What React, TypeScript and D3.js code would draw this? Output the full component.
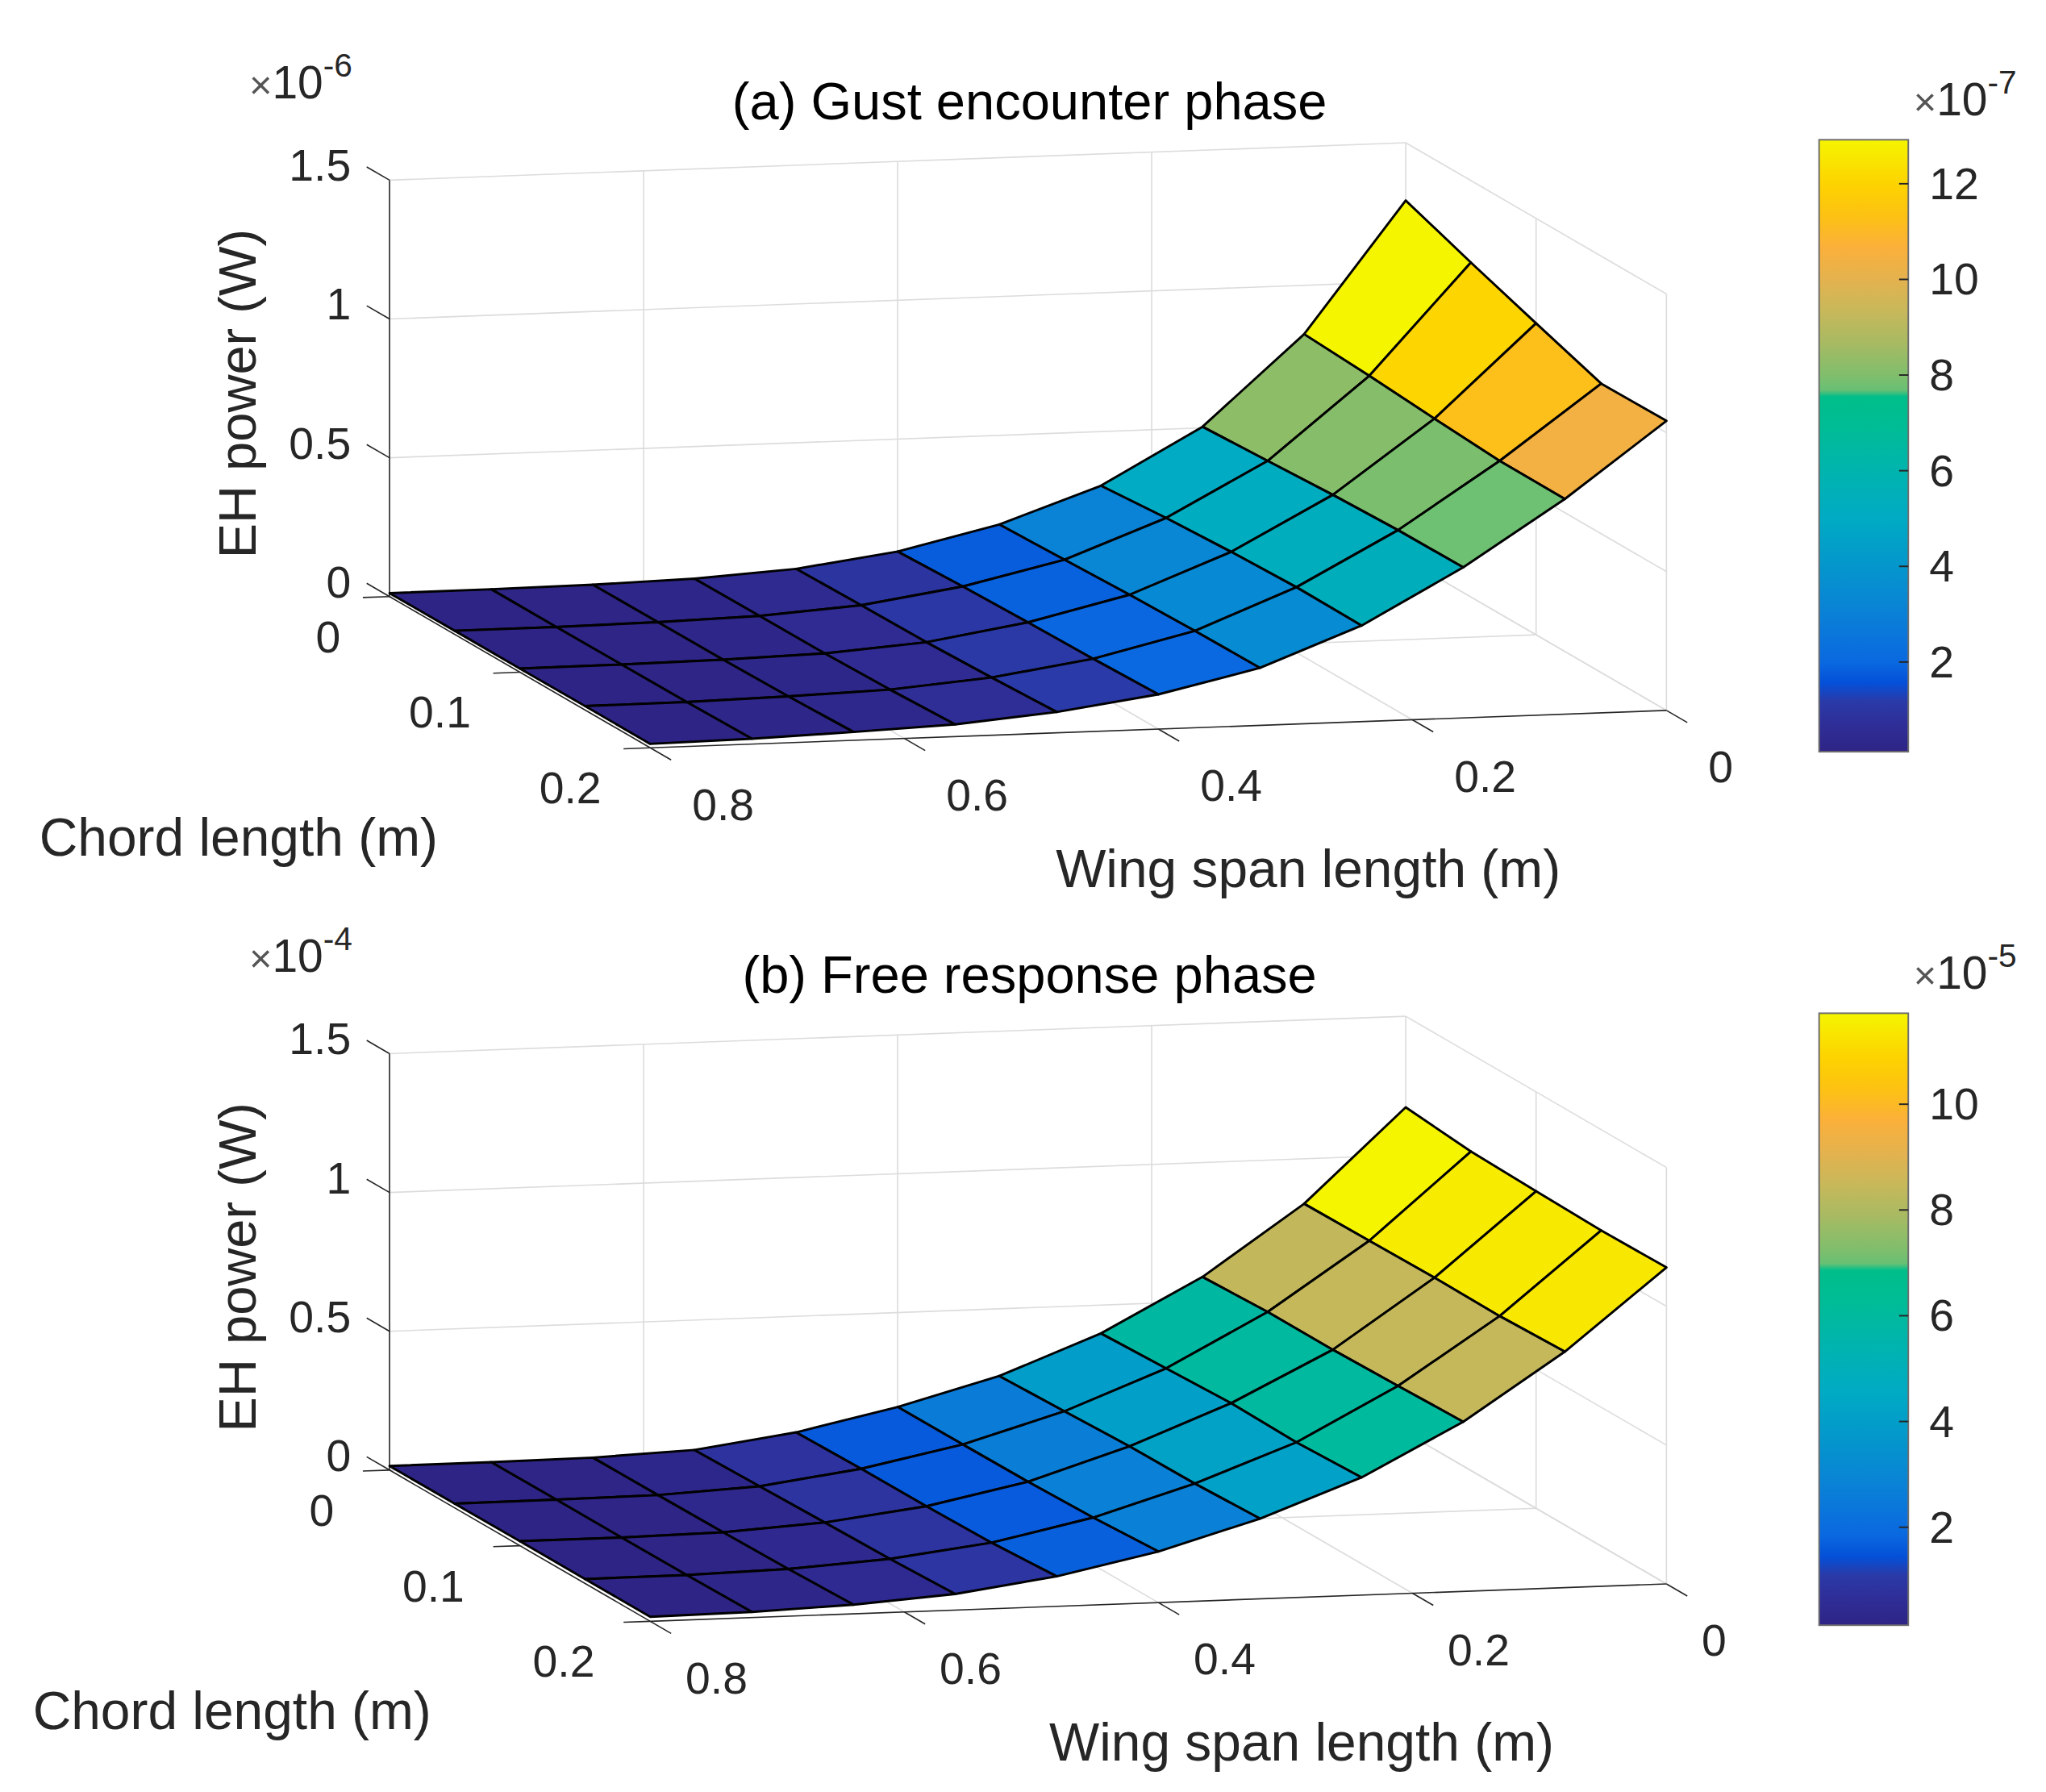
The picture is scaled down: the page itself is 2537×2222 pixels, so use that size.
import React, { useEffect, useRef } from 'react';
import * as d3 from 'd3';

// grid of the surf plot
const spanValues = [0, 0.08, 0.16, 0.24, 0.32, 0.4, 0.48, 0.56, 0.64, 0.72, 0.8];
const chordValues = [0, 0.05, 0.1, 0.15, 0.2];

// rows = chord length, columns = wing span (x1e-6 W)
const gustPower = [
  [1.292, 0.824, 0.504, 0.305, 0.179, 0.095, 0.046, 0.024, 0.016, 0.013, 0.0124],
  [1.205, 0.81, 0.517, 0.325, 0.188, 0.105, 0.051, 0.026, 0.017, 0.013, 0.013],
  [1.122, 0.792, 0.531, 0.339, 0.198, 0.112, 0.054, 0.027, 0.018, 0.014, 0.013],
  [1.041, 0.776, 0.54, 0.348, 0.204, 0.117, 0.063, 0.033, 0.022, 0.015, 0.014],
  [1.043, 0.775, 0.542, 0.346, 0.207, 0.125, 0.075, 0.044, 0.03, 0.019, 0.014],
];

// rows = chord length, columns = wing span (x1e-4 W)
const freePower = [
  [1.172, 0.838, 0.588, 0.398, 0.258, 0.16, 0.082, 0.032, 0.018, 0.015, 0.0147],
  [1.149, 0.841, 0.598, 0.408, 0.267, 0.161, 0.087, 0.037, 0.019, 0.016, 0.015],
  [1.142, 0.844, 0.598, 0.419, 0.277, 0.163, 0.088, 0.043, 0.021, 0.016, 0.016],
  [1.137, 0.842, 0.604, 0.414, 0.279, 0.17, 0.093, 0.048, 0.025, 0.017, 0.016],
  [1.14, 0.85, 0.611, 0.424, 0.289, 0.184, 0.108, 0.058, 0.033, 0.02, 0.016],
];

const zTicks = [0, 0.5, 1, 1.5];
const chordTicks = [0, 0.1, 0.2];
const spanTicks = [0, 0.2, 0.4, 0.6, 0.8];
const gustBarTicks = [2, 4, 6, 8, 10, 12];
const freeBarTicks = [2, 4, 6, 8, 10];

// colormap as drawn in the colorbars
const mapStops = [0, 0.045, 0.082, 0.112, 0.146, 0.23, 0.303, 0.379, 0.459, 0.528, 0.58, 0.591, 0.615, 0.669, 0.721, 0.772, 0.825, 0.877, 0.928, 1];
const mapColors = ['#2e2485', '#2f2e98', '#2a3aa8', '#0450d8', '#0a68e0', '#0a82d6', '#0496cc', '#00aac4', '#00b4ae', '#00bc96', '#00be8a', '#68c074', '#80be6c', '#a8ba62', '#c8b85a', '#e4b24e', '#fbb03a', '#fdc212', '#fdd300', '#f5f500'];

// barScale: colorbar unit relative to z unit (x1e-7 vs x1e-6, x1e-5 vs x1e-4)
const panels = [
  { id: 'a', title: '(a) Gust encounter phase', zExp: '-6', barExp: '-7', power: gustPower, cmin: 0.0124, cmax: 1.292, barScale: 10, barTicks: gustBarTicks, dy: 0, shift: 0 },
  { id: 'b', title: '(b) Free response phase', zExp: '-4', barExp: '-5', power: freePower, cmin: 0.0147, cmax: 1.172, barScale: 10, barTicks: freeBarTicks, dy: 666, shift: -5 },
];

const FONT = '"Liberation Sans", Arial, Helvetica, sans-serif';
const INK = '#262626';

const App: React.FC = () => {
  const svgRef = useRef<SVGSVGElement>(null);

  useEffect(() => {
    if (!svgRef.current) return;
    const svg = d3.select(svgRef.current);
    svg.selectAll('*').remove();

    const colormap = d3.scaleLinear<string>().domain(mapStops).range(mapColors).clamp(true);

    // orthographic projection of the plot box
    const spanX = d3.scaleLinear().domain([0, 0.8]).range([1071.8, 297]);
    const spanY = d3.scaleLinear().domain([0, 0.8]).range([0, 28.5]);
    const chordX = d3.scaleLinear().domain([0, 0.2]).range([0, 198.8]);
    const chordY = d3.scaleLinear().domain([0, 0.2]).range([0, 115.3]);
    const zY = d3.scaleLinear().domain([0, 1.5]).range([426.2, 108.7]);
    const proj = (s: number, c: number, z: number): [number, number] => [
      spanX(s) + chordX(c),
      zY(z) + spanY(s) + chordY(c),
    ];
    const line = d3.line<[number, number]>();

    const defs = svg.append('defs');

    panels.forEach(p => {
      const g = svg.append('g').attr('transform', `translate(0,${p.dy})`);

      const seg = (a: [number, number], b: [number, number], color: string, w: number) =>
        g.append('line')
          .attr('x1', a[0]).attr('y1', a[1]).attr('x2', b[0]).attr('y2', b[1])
          .attr('stroke', color).attr('stroke-width', w);

      // grid on back wall, side wall and floor
      const grid = '#dcdcdc';
      zTicks.forEach(z => {
        seg(proj(0.8, 0, z), proj(0, 0, z), grid, 1);
        seg(proj(0, 0, z), proj(0, 0.2, z), grid, 1);
      });
      spanTicks.filter(s => s < 0.8).forEach(s => {
        seg(proj(s, 0, 0), proj(s, 0, 1.5), grid, 1);
        seg(proj(s, 0, 0), proj(s, 0.2, 0), grid, 1);
      });
      chordTicks.filter(c => c > 0).forEach(c => {
        seg(proj(0, c, 0), proj(0, c, 1.5), grid, 1);
      });
      chordTicks.filter(c => c < 0.2).forEach(c => {
        seg(proj(0, c, 0), proj(0.8, c, 0), grid, 1);
      });

      // axis lines
      seg(proj(0.8, 0, 0), proj(0.8, 0, 1.5), INK, 1);
      seg(proj(0.8, 0, 0), proj(0.8, 0.2, 0), INK, 1);
      seg(proj(0.8, 0.2, 0), proj(0, 0.2, 0), INK, 1);

      const tickText = (x: number, y: number, txt: string, anchor: string) =>
        g.append('text')
          .attr('x', x).attr('y', y)
          .attr('text-anchor', anchor)
          .attr('dominant-baseline', 'central')
          .attr('font-family', FONT).attr('font-size', 34).attr('fill', INK)
          .text(txt);

      zTicks.forEach(z => {
        const a = proj(0.8, 0, z);
        const b = proj(0.8, -0.0175, z);
        seg(a, b, INK, 1);
        tickText(b[0] - 12, b[1] - 1, String(z), 'end');
      });
      chordTicks.forEach(c => {
        const a = proj(0.8, c, 0);
        const b = proj(0.821, c, 0);
        seg(a, b, INK, 1);
        tickText(b[0] - 17 + p.shift, b[1] + 30, String(c), 'end');
      });
      spanTicks.forEach(s => {
        const a = proj(s, 0.2, 0);
        const b = proj(s, 0.216, 0);
        seg(a, b, INK, 1);
        tickText(b[0] + 16 + p.shift, b[1] + 34, String(s), 'start');
      });

      // surface faces, far ones first
      const cnorm = d3.scaleLinear().domain([p.cmin, p.cmax]).range([0, 1]);
      const faces: { pts: [number, number][]; color: string; depth: number }[] = [];
      for (let j = 0; j < chordValues.length - 1; j++) {
        for (let i = 0; i < spanValues.length - 1; i++) {
          const s0 = spanValues[i], s1 = spanValues[i + 1];
          const c0 = chordValues[j], c1 = chordValues[j + 1];
          faces.push({
            pts: [
              proj(s0, c0, p.power[j][i]),
              proj(s1, c0, p.power[j][i + 1]),
              proj(s1, c1, p.power[j + 1][i + 1]),
              proj(s0, c1, p.power[j + 1][i]),
            ],
            color: colormap(cnorm(p.power[j][i])),
            depth: spanY((s0 + s1) / 2) + chordY((c0 + c1) / 2),
          });
        }
      }
      faces.sort((a, b) => a.depth - b.depth);
      g.selectAll('path.face')
        .data(faces)
        .enter()
        .append('path')
        .attr('class', 'face')
        .attr('d', d => line(d.pts) + 'Z')
        .attr('fill', d => d.color)
        .attr('stroke', '#000')
        .attr('stroke-width', 1.8)
        .attr('stroke-linejoin', 'round');

      // titles and labels
      g.append('text')
        .attr('x', 785).attr('y', 77)
        .attr('text-anchor', 'middle').attr('dominant-baseline', 'central')
        .attr('font-family', FONT).attr('font-size', 40).attr('fill', '#000')
        .text(p.title);

      g.append('text')
        .attr('transform', 'translate(181,300) rotate(-90)')
        .attr('text-anchor', 'middle').attr('dominant-baseline', 'central')
        .attr('font-family', FONT).attr('font-size', 40).attr('fill', INK)
        .text('EH power (W)');

      g.append('text')
        .attr('x', 30 + p.shift).attr('y', 638)
        .attr('dominant-baseline', 'central')
        .attr('font-family', FONT).attr('font-size', 40.5).attr('fill', INK)
        .text('Chord length (m)');

      g.append('text')
        .attr('x', 805 + p.shift).attr('y', 662)
        .attr('dominant-baseline', 'central')
        .attr('font-family', FONT).attr('font-size', 40.5).attr('fill', INK)
        .text('Wing span length (m)');

      const expText = (x: number, y: number, exp: string) => {
        const t = g.append('text')
          .attr('x', x).attr('y', y)
          .attr('font-family', FONT).attr('fill', INK);
        t.append('tspan').attr('font-size', 30).attr('fill', '#555').text('×');
        t.append('tspan').attr('font-size', 35).text('10');
        t.append('tspan').attr('font-size', 25).attr('dy', -17).text(exp);
      };
      expText(190, 75, p.zExp);
      expText(1459, 88, p.barExp);

      // colorbar
      const gradId = `cmap-${p.id}`;
      const grad = defs.append('linearGradient')
        .attr('id', gradId)
        .attr('x1', 0).attr('y1', 1).attr('x2', 0).attr('y2', 0);
      mapStops.forEach((t, k) => {
        grad.append('stop').attr('offset', t).attr('stop-color', mapColors[k]);
      });
      const barTop = 106.4, barBottom = 573, barLeft = 1387, barRight = 1455;
      const barY = d3.scaleLinear()
        .domain([p.cmin * p.barScale, p.cmax * p.barScale])
        .range([barBottom, barTop]);
      g.append('rect')
        .attr('x', barLeft).attr('y', barTop)
        .attr('width', barRight - barLeft).attr('height', barBottom - barTop)
        .attr('fill', `url(#${gradId})`)
        .attr('stroke', '#6e6e6e').attr('stroke-width', 1.2);
      p.barTicks.forEach(v => {
        seg([barRight, barY(v)], [barRight - 7, barY(v)], INK, 1.2);
        g.append('text')
          .attr('x', 1471).attr('y', barY(v))
          .attr('dominant-baseline', 'central')
          .attr('font-family', FONT).attr('font-size', 34).attr('fill', INK)
          .text(String(v));
      });
    });
  }, []);

  return (
    <svg
      ref={svgRef}
      width={2537}
      height={2222}
      viewBox="0 0 1560 1366"
      style={{ position: 'absolute', left: 0, top: 0, background: '#fff' }}
    />
  );
};

export default App;
